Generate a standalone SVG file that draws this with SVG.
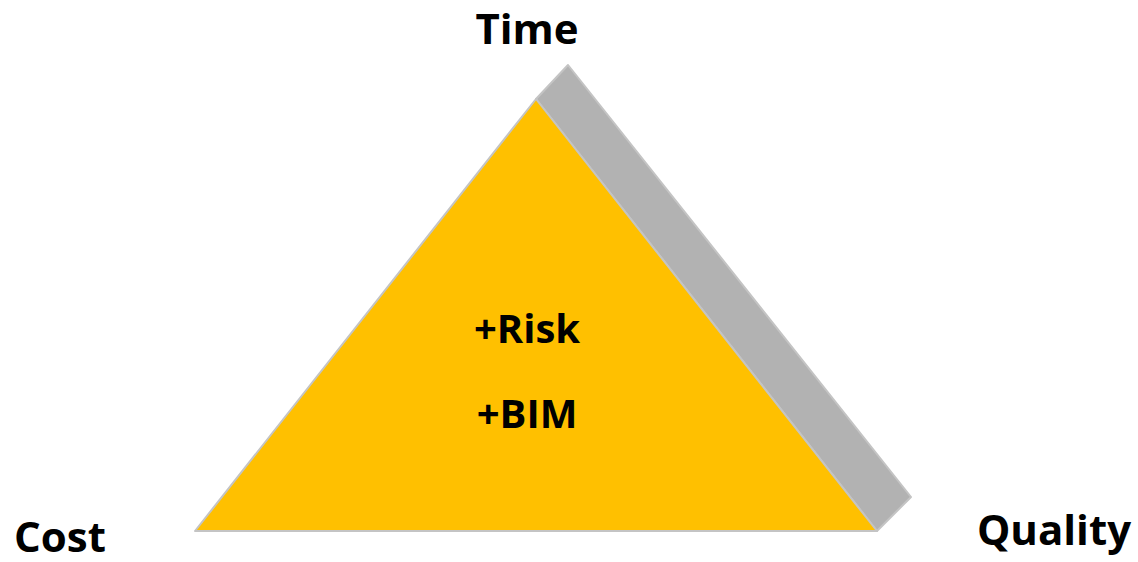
<svg xmlns="http://www.w3.org/2000/svg" width="1138" height="562" viewBox="0 0 1138 562">
<style>
.lbl{font-family:"Open Sans","Liberation Sans",sans-serif;font-weight:bold;fill:#000}
.big{font-size:42px}
.mid{font-size:40px}
</style>
<rect width="1138" height="562" fill="#fff"/>
<g id="triangle">
<polygon points="536,99 568,65 911,497 877,531" fill="#B2B2B2" stroke="#C4C4C4" stroke-width="2" stroke-linejoin="round"/>
<polygon points="536,99 877,531 195,531" fill="#FFC000" stroke="#C4C4C4" stroke-width="2" stroke-linejoin="round"/>
</g>
<g id="center-text">
<text class="lbl mid" x="527" y="343" text-anchor="middle">+Risk</text>
<text class="lbl mid" x="527" y="428" text-anchor="middle">+BIM</text>
</g>
<g id="time"><text class="lbl big" x="527" y="44" text-anchor="middle">Time</text></g>
<g id="cost"><text class="lbl big" x="14" y="552">Cost</text></g>
<g id="quality"><text class="lbl big" x="1054" y="545" text-anchor="middle">Quality</text></g>
<g id="connectors"/>
</svg>
